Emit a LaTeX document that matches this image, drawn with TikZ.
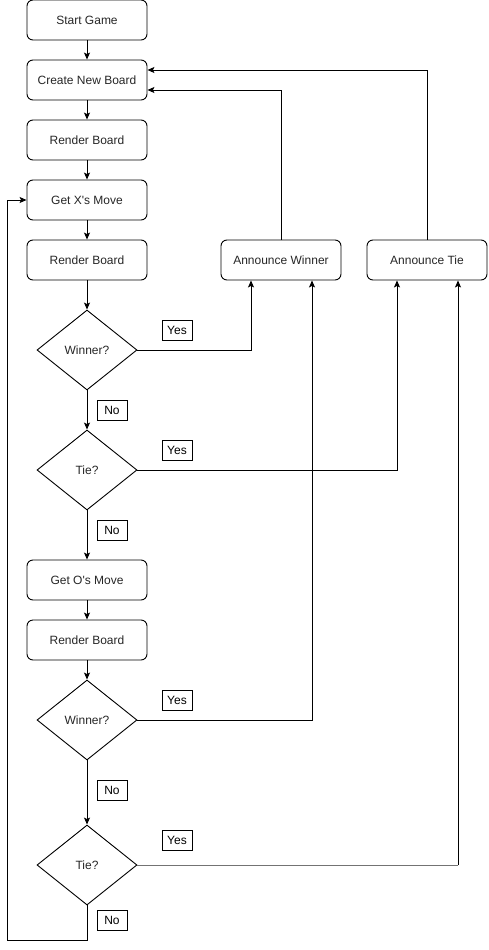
\documentclass[tikz,border=0pt]{standalone}
\usepackage{fontspec}
\setmainfont{Liberation Sans}
\usetikzlibrary{shapes.geometric,arrows.meta}
\begin{document}
\begin{tikzpicture}[x=1pt,y=-1pt,
  every node/.style={font=\fontsize{12}{14}\selectfont, text=black!85},
  procbox/.style={draw, rounded corners=6pt, line width=0.9pt, minimum width=120pt, minimum height=40pt, inner sep=0pt},
  decbox/.style={draw, diamond, line width=0.9pt, minimum width=100pt, minimum height=80pt, inner sep=0pt},
  lbl/.style={draw, line width=0.9pt, minimum width=30pt, minimum height=20pt, inner sep=0pt, text=black},
  arr/.style={line width=0.9pt, -{Stealth[length=7pt,width=6pt,inset=1.5pt]}}]
\useasboundingbox (0,0) rectangle (488,950);
\node[procbox] (start) at (87,20) {Start Game};
\node[procbox] (create) at (87,80) {Create New Board};
\node[procbox] (r1) at (87,140) {Render Board};
\node[procbox] (getx) at (87,200) {Get X\textquotesingle s Move};
\node[procbox] (r2) at (87,260) {Render Board};
\node[decbox] (w1) at (87,350) {Winner?};
\node[decbox] (t1) at (87,470) {Tie?};
\node[procbox] (geto) at (87,580) {Get O\textquotesingle s Move};
\node[procbox] (r3) at (87,640) {Render Board};
\node[decbox] (w2) at (87,720) {Winner?};
\node[decbox] (t2) at (87,865) {Tie?};
\node[procbox] (aw) at (281,260) {Announce Winner};
\node[procbox] (at) at (427,260) {Announce Tie};

\node[lbl] (y1) at (177,330) {Yes};
\node[lbl] (y2) at (177,450) {Yes};
\node[lbl] (y3) at (177,700) {Yes};
\node[lbl] (y4) at (177,840) {Yes};
\node[lbl] (n1) at (112,410) {No};
\node[lbl] (n2) at (112,530) {No};
\node[lbl] (n3) at (112,790) {No};
\node[lbl] (n4) at (112,920) {No};

\coordinate (loopA) at (7,940);
\coordinate (tiecorner) at (458,865);

\draw[arr] (start) -- (create);
\draw[arr] (create) -- (r1);
\draw[arr] (r1) -- (getx);
\draw[arr] (getx) -- (r2);
\draw[arr] (r2) -- (w1);
\draw[arr] (w1) -- (t1);
\draw[arr] (t1) -- (geto);
\draw[arr] (geto) -- (r3);
\draw[arr] (r3) -- (w2);
\draw[arr] (w2) -- (t2);
\draw[arr] (t2.south) |- (loopA) |- (getx.west);

\draw[arr] (w1.east) -| ([xshift=-30pt]aw.south);
\draw[arr] (w2.east) -| ([xshift=31pt]aw.south);
\draw[arr] (t1.east) -| ([xshift=-30pt]at.south);
\draw[line width=0.9pt, black!55] (t2.east) -- ([xshift=0.45pt]tiecorner);
\draw[arr] ([yshift=-0.45pt]tiecorner) -- ([xshift=31pt]at.south);

\draw[arr] (aw.north) |- ([yshift=-10pt]create.east);
\draw[arr] (at.north) |- ([yshift=10pt]create.east);
\end{tikzpicture}
\end{document}
